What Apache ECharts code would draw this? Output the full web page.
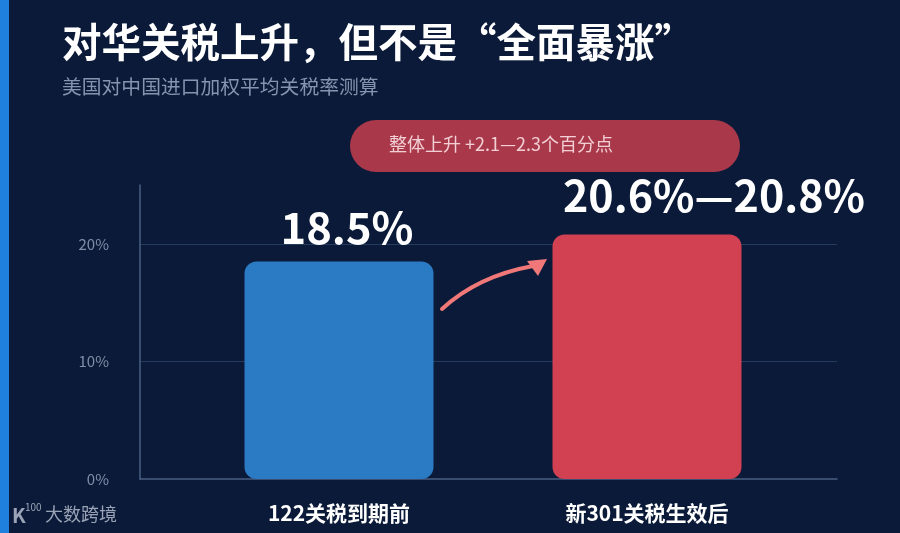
<!DOCTYPE html>
<html>
<head>
<meta charset="utf-8">
<script src="https://cdn.jsdelivr.net/npm/echarts@6/dist/echarts.min.js"></script>
<style>
html,body{margin:0;padding:0;background:#0b1a38;}
#c{width:900px;height:533px;}
</style>
</head>
<body>
<div id="c"></div>
<script>
var categories = ['122关税到期前', '新301关税生效后'];
var values = [18.5, 20.8];
var barLabels = ['18.5%', '20.6%—20.8%'];
var barColors = ['#2a7bc4', '#d14152'];
var yMax = 25;
var yInterval = 10;
var titleText = '对华关税上升，但不是“全面暴涨”';
var subtitleText = '美国对中国进口加权平均关税率测算';
var pillText = '整体上升 +2.1—2.3个百分点';
var watermarkText = '大数跨境';

var FONT = '"Noto Sans CJK SC", "Noto Sans", sans-serif';
var chart = echarts.init(document.getElementById('c'));

var option = {
  backgroundColor: '#0b1a38',
  animation: false,
  textStyle: { fontFamily: FONT },
  grid: [
    { left: 185, right: 99, top: 185, bottom: 54 },
    { left: 140, right: 63, top: 185, bottom: 54 }
  ],
  xAxis: [
    {
      type: 'category', gridIndex: 0, data: categories,
      axisLine: { show: false }, axisTick: { show: false },
      axisLabel: { color: '#ffffff', fontSize: 21, fontWeight: 'bold', margin: 24, fontFamily: FONT }
    },
    {
      type: 'value', gridIndex: 1, min: 0, max: 1,
      axisLine: { show: true, lineStyle: { color: '#4a5f82', width: 1.5 } },
      axisTick: { show: false }, axisLabel: { show: false }, splitLine: { show: false }
    }
  ],
  yAxis: [
    { type: 'value', gridIndex: 0, min: 0, max: yMax, show: false },
    {
      type: 'value', gridIndex: 1, min: 0, max: yMax, interval: yInterval,
      axisLine: { show: true, lineStyle: { color: '#4a5f82', width: 1.5 } },
      axisTick: { show: false },
      axisLabel: { color: '#8090aa', fontSize: 15, margin: 31, showMaxLabel: false,
        formatter: function (v) { return v === yMax ? '' : v + '%'; }, fontFamily: FONT },
      splitLine: { show: true, showMinLine: false, showMaxLine: false, lineStyle: { color: '#263c5e', width: 1.2 } }
    }
  ],
  series: [
    {
      type: 'bar', xAxisIndex: 0, yAxisIndex: 0, barWidth: 189,
      data: values.map(function (v, i) {
        return {
          value: v,
          itemStyle: { color: barColors[i], borderRadius: 12 },
          label: {
            show: true, position: 'top',
            formatter: barLabels[i],
            color: '#ffffff', fontWeight: 'bold',
            fontSize: i === 0 ? 43.5 : 43,
            distance: i === 0 ? 12 : 17,
            offset: i === 0 ? [8, 0] : [67, 0],
            fontFamily: FONT
          }
        };
      })
    }
  ],
  graphic: [
    { type: 'rect', left: 0, top: 0, shape: { width: 9, height: 533 }, style: { fill: '#1f80de' } },
    { type: 'text', left: 62, top: 22, style: { text: titleText, fill: '#ffffff', fontSize: 39.5, fontWeight: 'bold', fontFamily: FONT } },
    { type: 'text', left: 62, top: 77, style: { text: subtitleText, fill: '#8595b0', fontSize: 19.8, fontFamily: FONT } },
    { type: 'rect', left: 350, top: 120, shape: { width: 390, height: 52, r: 26 }, style: { fill: '#a8384a' } },
    { type: 'text', left: 389, top: 135, style: { text: pillText, fill: '#f2cfd4', fontSize: 18, fontFamily: FONT } },
    { type: 'bezierCurve', shape: { x1: 442, y1: 309, x2: 533, y2: 266, cpx1: 467, cpy1: 286, cpx2: 500, cpy2: 272 },
      style: { stroke: '#f07878', lineWidth: 4, fill: null, lineCap: 'round' } },
    { type: 'polygon', shape: { points: [[547, 259], [527, 261], [538, 276]] }, style: { fill: '#f07878' } },
    { type: 'text', left: 12, top: 505, style: { text: 'K', fill: '#9aa4b6', fontSize: 20, fontWeight: 'bold', fontFamily: FONT } },
    { type: 'text', left: 25, top: 502, style: { text: '100', fill: '#9aa4b6', fontSize: 10, fontFamily: FONT } },
    { type: 'text', left: 45, top: 505, style: { text: watermarkText, fill: '#9aa4b6', fontSize: 18, fontFamily: FONT } }
  ]
};
chart.setOption(option);
</script>
</body>
</html>
